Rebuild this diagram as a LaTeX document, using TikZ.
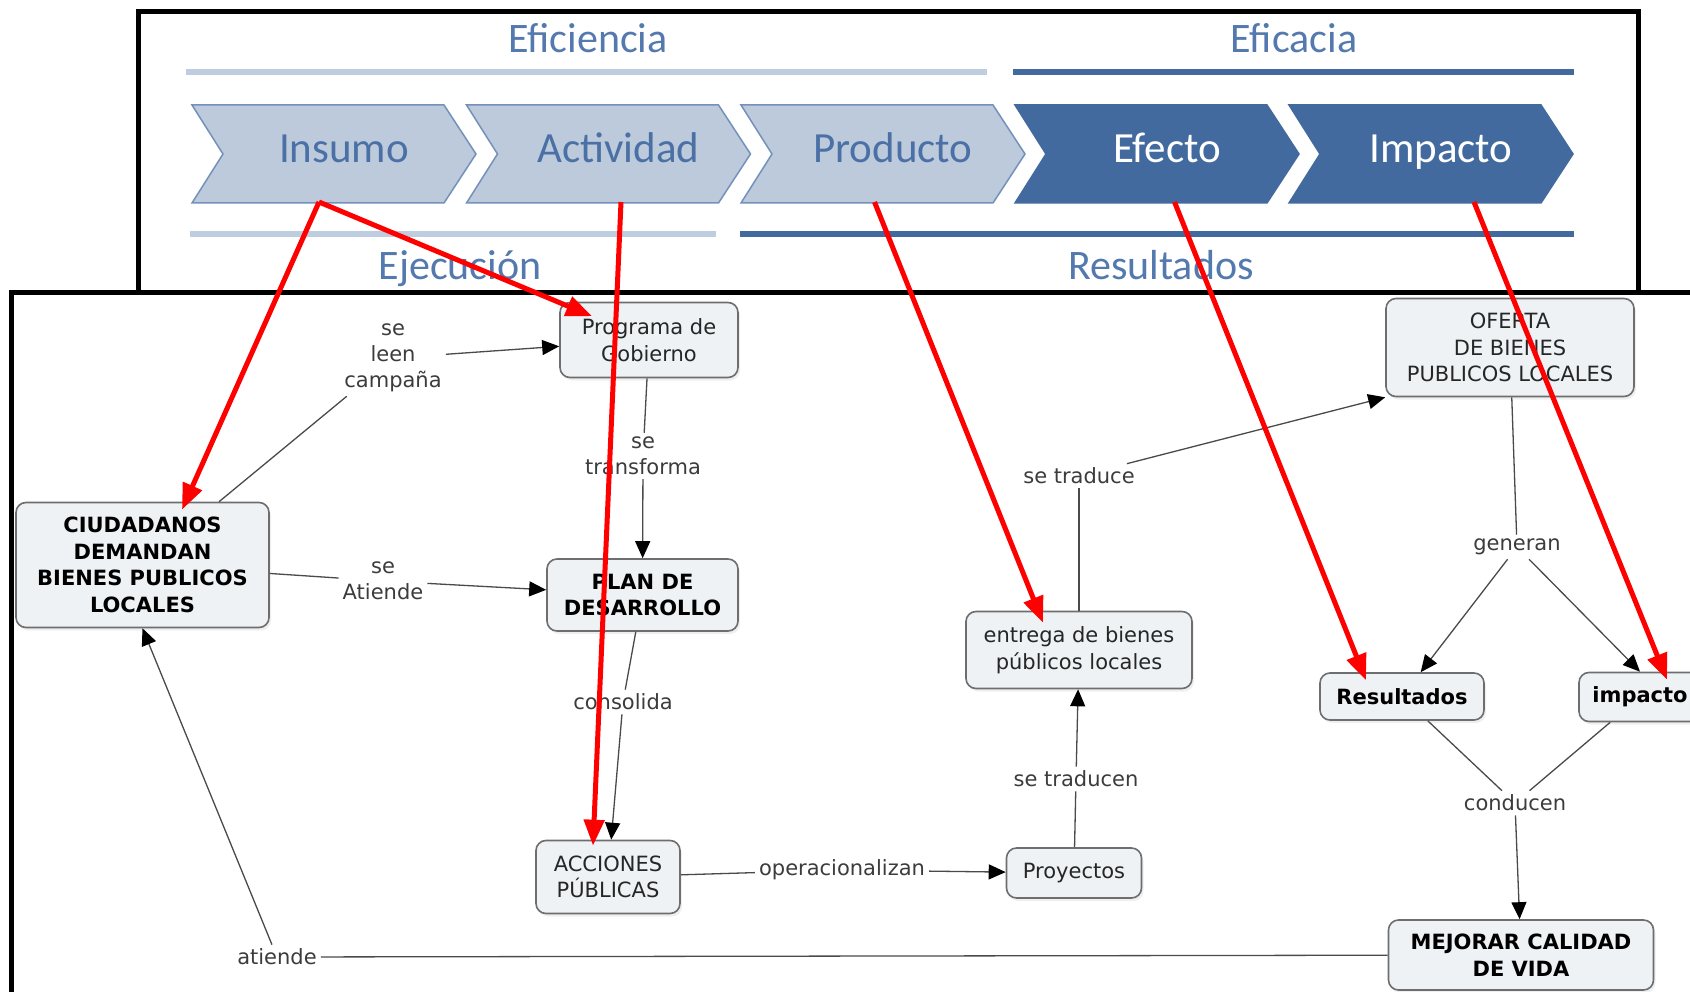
\documentclass[tikz,border=0pt]{standalone}
\usepackage{fontspec}
\setmainfont{DejaVu Sans}
\newfontfamily\calfont{Carlito}
\usetikzlibrary{arrows.meta,calc,shadows}
\definecolor{lightchev}{HTML}{BCCADB}
\definecolor{lightchevdraw}{HTML}{7391BA}
\definecolor{darkchev}{HTML}{426A9E}
\definecolor{headtxt}{HTML}{5479AE}
\definecolor{chevtxt}{HTML}{4A70A5}
\definecolor{lightbar}{HTML}{BFCDE0}
\definecolor{cnode}{HTML}{EEF2F5}
\definecolor{cborder}{HTML}{6E6E6E}
\definecolor{linkgray}{HTML}{4A4A4A}
\definecolor{labgray}{HTML}{3C3C3C}
\newcommand\chevronpath[3]{\filldraw[fill=#2, draw=#3, line width=1.5pt, line join=miter] (#1,105) -- ++(252,0) -- ++(32,49) -- ++(-32,49) -- ++(-252,0) -- ++(31,-49) -- cycle;}
\begin{document}
\begin{tikzpicture}[x=1pt,y=-1pt,
  headtext/.style={font=\calfont\fontsize{42}{48}\selectfont, text=headtxt, anchor=base, inner sep=0pt},
  chevlabel/.style={font=\calfont\fontsize{43}{50}\selectfont, anchor=base, inner sep=0pt},
  conceptbox/.style={draw=cborder, line width=1.6pt, fill=cnode, rounded corners=10pt, align=center, font=\fontsize{21}{26.5}\selectfont, text=black!85, inner sep=2pt, drop shadow={opacity=0.12, shadow xshift=2pt, shadow yshift=-3pt}},
  boldbox/.style={conceptbox, font=\bfseries\fontsize{21}{26.5}\selectfont, text=black},
  linklabel/.style={align=center, font=\fontsize{21}{26}\selectfont, text=labgray, inner sep=4pt},
  linkline/.style={draw=linkgray, line width=1.3pt},
  arrowline/.style={linkline, -{Triangle[length=17pt,width=15pt,black]}},
  redarrow/.style={draw=red, line width=5pt, -{Triangle[length=26pt,width=20pt]}},
  panelframe/.style={line width=5pt, draw=black, line join=miter}
]
\fill[white] (0,0) rectangle (1690,992);
\clip (0,0) rectangle (1690,992);

% ---- top panel ----
\node[headtext] (eficiencia) at (588,53) {Eficiencia};
\node[headtext] (eficacia) at (1294,53) {Eficacia};
\draw[line width=6pt, lightbar] (186,72) -- (987,72);
\draw[line width=6pt, darkchev] (1013,72) -- (1574,72);

\chevronpath{192}{lightchev}{lightchevdraw}
\chevronpath{466.5}{lightchev}{lightchevdraw}
\chevronpath{741}{lightchev}{lightchevdraw}
\chevronpath{1015}{darkchev}{darkchev}
\chevronpath{1289}{darkchev}{darkchev}
\node[chevlabel, text=chevtxt] (insumo) at (344,163) {Insumo};
\node[chevlabel, text=chevtxt] (actividad) at (618.5,163) {Actividad};
\node[chevlabel, text=chevtxt] (producto) at (893,163) {Producto};
\node[chevlabel, text=white] (efecto) at (1167,163) {Efecto};
\node[chevlabel, text=white] (impacto) at (1441,163) {Impacto};

\draw[line width=6pt, lightbar] (190,234) -- (716,234);
\draw[line width=6pt, darkchev] (740,234) -- (1574,234);
\node[headtext] (ejecucion) at (460,280) {Ejecución};
\node[headtext] (resultadostop) at (1161,280) {Resultados};

\coordinate (insumo-b) at (319,202);
\coordinate (actividad-b) at (621,202);
\coordinate (producto-b) at (874.5,202);
\coordinate (efecto-b) at (1174.5,202);
\coordinate (impacto-b) at (1474,202);

% frames
\draw[panelframe] (138,293) -- (138,12) -- (1638,12) -- (1638,293);
\draw[panelframe] (11,1000) -- (11,293) -- (1700,293);

% ---- concept map ----
\node[boldbox, minimum width=253pt, minimum height=125pt] (ciu) at (142.5,565) {CIUDADANOS\\DEMANDAN\\BIENES PUBLICOS\\LOCALES};
\node[conceptbox, minimum width=178pt, minimum height=75pt] (prog) at (649,340) {Programa de\\Gobierno};
\node[boldbox, minimum width=191pt, minimum height=72pt] (plan) at (642.5,595) {PLAN DE\\DESARROLLO};
\node[conceptbox, minimum width=144pt, minimum height=73pt] (acc) at (608,877) {ACCIONES\\PÚBLICAS};
\node[conceptbox, minimum width=135pt, minimum height=50pt] (proy) at (1074,873) {Proyectos};
\node[conceptbox, minimum width=226pt, minimum height=77pt] (entr) at (1079,650) {entrega de bienes\\públicos locales};
\node[conceptbox, minimum width=248pt, minimum height=98pt] (ofer) at (1510,347.5) {OFERTA\\DE BIENES\\PUBLICOS LOCALES};
\node[boldbox, minimum width=164pt, minimum height=47pt] (res) at (1402,696.5) {Resultados};
\node[boldbox, minimum width=122pt, minimum height=49pt] (imp) at (1640,697) {impacto};
\node[boldbox, minimum width=265pt, minimum height=70pt] (mej) at (1521,955) {MEJORAR CALIDAD\\DE VIDA};

\node[linklabel] (l1) at (393,358) {se\\leen\\campaña};
\node[linklabel] (l2) at (643,456) {se\\transforma};
\node[linklabel] (l3) at (383,581) {se\\Atiende};
\node[linklabel] (l4) at (623,702) {consolida};
\node[linklabel] (l5) at (842,870) {operacionalizan};
\node[linklabel] (l6) at (1076,779) {se traducen};
\node[linklabel] (l7) at (1079,476) {se traduce};
\node[linklabel] (l8) at (1517,547) {generan};
\node[linklabel] (l9) at (1515,803) {conducen};
\node[linklabel] (l10) at (277,957) {atiende};

\draw[linkline] (ciu) -- (l1);
\draw[arrowline] (l1) -- (prog);
\draw[linkline] (prog) -- (l2);
\draw[arrowline] (l2) -- (plan);
\draw[linkline] (ciu) -- (l3);
\draw[arrowline] (l3) -- (plan);
\draw[linkline] (plan) -- (l4);
\draw[arrowline] (l4) -- (acc);
\draw[linkline] (acc) -- (l5);
\draw[arrowline] (l5) -- (proy);
\draw[linkline] (proy) -- (l6);
\draw[arrowline] (l6) -- (entr);
\draw[linkline] (entr) -- (l7);
\draw[arrowline] (l7) -- (ofer.south west);
\draw[linkline] (ofer) -- (l8);
\draw[arrowline] (l8) -- (res);
\draw[arrowline] (l8) -- (imp.north);
\draw[linkline] (res) -- (l9);
\draw[linkline] (imp) -- (l9);
\draw[arrowline] (l9) -- (mej);
\draw[linkline] (mej) -- (l10);
\draw[arrowline] (l10) -- (ciu.south);

% ---- red arrows ----
\draw[redarrow] (insumo-b) -- ($(ciu.north)+(39.5,8)$);
\draw[redarrow] (insumo-b) -- ($(prog.north)+(-57,14.5)$);
\draw[redarrow] (actividad-b) -- ($(acc.north)+(-15,6)$);
\draw[redarrow] (producto-b) -- ($(entr.north)+(-36,12)$);
\draw[redarrow] (efecto-b) -- ($(res.north)+(-36,8)$);
\draw[redarrow] (impacto-b) -- ($(imp.north)+(27,8)$);
\end{tikzpicture}
\end{document}
